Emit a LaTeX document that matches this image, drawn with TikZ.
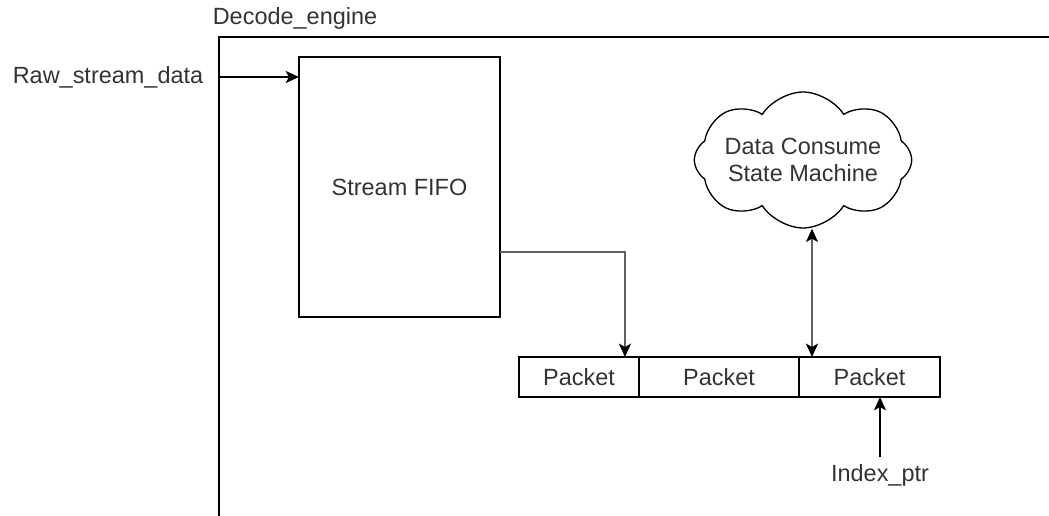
\documentclass[tikz,border=0pt]{standalone}
\usepackage{fontspec}
\setmainfont{Liberation Sans}
\usetikzlibrary{positioning,arrows.meta,shapes,shapes.symbols,calc}
\tikzstyle{blk}=[rectangle, draw=black, line width=1pt, inner sep=0pt,
                 outer sep=0pt, text=black!80]
\tikzstyle{pkbox}=[blk, minimum height=30pt]
\tikzstyle{lbl}=[inner sep=1pt, text=black!80]
\tikzstyle{dcloud}=[cloud, draw=black, line width=1pt, cloud puffs=8,
                    cloud puff arc=115, cloud ignores aspect, inner sep=0pt,
                    minimum width=161pt, minimum height=102pt, align=center,
                    text=black!80]
\tikzstyle{karrow}=[-{Stealth[length=10pt,width=9pt,inset=2.5pt]}, line width=1.3pt]
\tikzstyle{garrow}=[-{Stealth[length=10pt,width=9pt,inset=2.5pt,color=black]},
                    line width=1.6pt, draw=black!62]
\tikzstyle{gdarrow}=[{Stealth[length=10pt,width=9pt,inset=2.5pt,color=black]}-{Stealth[length=10pt,width=9pt,inset=2.5pt,color=black]},
                    line width=1.6pt, draw=black!62]

\begin{document}
\begin{tikzpicture}[x=0.75pt, y=-0.75pt, font=\fontsize{17.6}{20}\selectfont]
\useasboundingbox (0,0) rectangle (1049,516);

% engine frame
\draw[line width=1pt] (219,516) |- (1049,37);
\node (ENG) [lbl] at (295,18) {Decode\_engine};
\coordinate (ENGIN) at (219,77);

\node (RAW) [lbl] at (108,77) {Raw\_stream\_data};
\node (FIFO) [blk, minimum width=150.75pt, minimum height=195pt] at (399.5,187) {Stream FIFO};
 \draw[karrow] (ENGIN) -- (FIFO.west |- ENGIN);

% packet row
\node (PKA) [pkbox, minimum width=90pt] at (579,377) {Packet};
\node (PKB) [pkbox, minimum width=120pt, right=0pt of PKA] {Packet};
\node (PKC) [pkbox, minimum width=105.75pt, right=0pt of PKB] {Packet};

 \draw[garrow] ($(FIFO.south east)!0.25!(FIFO.north east)$) -| ($(PKA.north west)!0.883!(PKA.north east)$);

\node (DCSM) [dcloud] at (803,160) {Data Consume\\State Machine};
\coordinate (DCX) at (812,0);
 \draw[gdarrow] (DCSM.south -| DCX) -- (PKC.north -| DCX);

\node (IDX) [lbl] at (880,475) {Index\_ptr};
 \draw[karrow] ([yshift=4pt]IDX.north) -- (IDX.north |- PKC.south);

\end{tikzpicture}
\end{document}
